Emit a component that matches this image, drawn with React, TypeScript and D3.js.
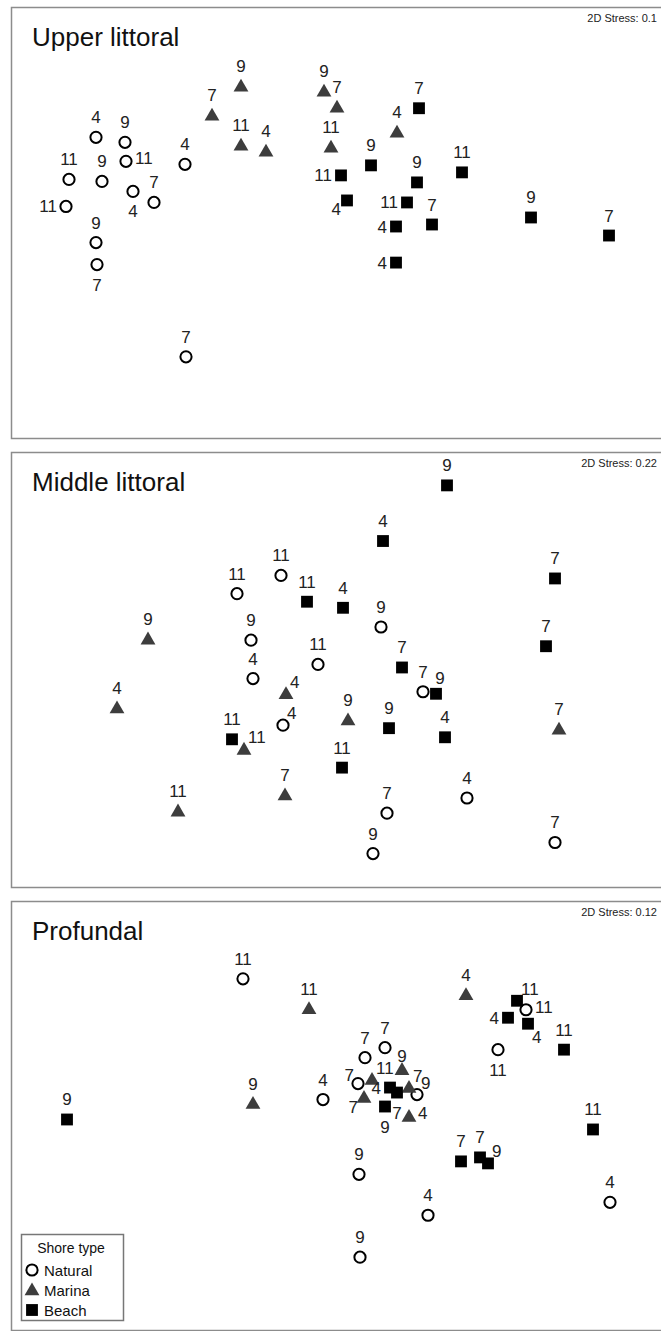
import React, { useEffect, useRef } from "react";
import * as d3 from "d3";

// NMDS ordinations, one per shore zone. Label = sampling month, lab = where the label sits.
type Pt = { t: string; x: number; y: number; lab: string };

const panelTitles = ["Upper littoral", "Middle littoral", "Profundal"];
const stressValues = ["0.1", "0.22", "0.12"];
const shoreTypes = ["Natural", "Marina", "Beach"];

const upperNatural: Pt[] = [
  { t: "4", x: -2.4, y: 0.85, lab: "n" },
  { t: "9", x: -2.11, y: 0.8, lab: "n" },
  { t: "11", x: -2.1, y: 0.61, lab: "e" },
  { t: "4", x: -1.51, y: 0.58, lab: "n" },
  { t: "11", x: -2.67, y: 0.43, lab: "n" },
  { t: "9", x: -2.34, y: 0.41, lab: "n" },
  { t: "4", x: -2.03, y: 0.31, lab: "s" },
  { t: "7", x: -1.82, y: 0.2, lab: "n" },
  { t: "11", x: -2.7, y: 0.16, lab: "w" },
  { t: "9", x: -2.4, y: -0.2, lab: "n" },
  { t: "7", x: -2.39, y: -0.42, lab: "s" },
  { t: "7", x: -1.5, y: -1.34, lab: "n" },
];
const upperMarina: Pt[] = [
  { t: "9", x: -0.95, y: 1.36, lab: "n" },
  { t: "7", x: -1.24, y: 1.07, lab: "n" },
  { t: "11", x: -0.95, y: 0.77, lab: "n" },
  { t: "4", x: -0.7, y: 0.71, lab: "n" },
  { t: "9", x: -0.12, y: 1.31, lab: "n" },
  { t: "7", x: 0.01, y: 1.15, lab: "n" },
  { t: "11", x: -0.05, y: 0.75, lab: "n" },
  { t: "4", x: 0.61, y: 0.9, lab: "n" },
];
const upperBeach: Pt[] = [
  { t: "7", x: 0.83, y: 1.14, lab: "n" },
  { t: "9", x: 0.35, y: 0.57, lab: "n" },
  { t: "11", x: 0.05, y: 0.47, lab: "w" },
  { t: "9", x: 0.81, y: 0.4, lab: "n" },
  { t: "11", x: 1.26, y: 0.5, lab: "n" },
  { t: "4", x: 0.11, y: 0.22, lab: "sw" },
  { t: "11", x: 0.71, y: 0.2, lab: "w" },
  { t: "7", x: 0.96, y: -0.02, lab: "n" },
  { t: "9", x: 1.95, y: 0.05, lab: "n" },
  { t: "7", x: 2.73, y: -0.13, lab: "n" },
  { t: "4", x: 0.6, y: -0.04, lab: "w" },
  { t: "4", x: 0.6, y: -0.4, lab: "w" },
];

const middleNatural: Pt[] = [
  { t: "11", x: -0.55, y: 0.93, lab: "n" },
  { t: "11", x: -0.99, y: 0.75, lab: "n" },
  { t: "9", x: -0.85, y: 0.29, lab: "n" },
  { t: "9", x: 0.45, y: 0.42, lab: "n" },
  { t: "11", x: -0.18, y: 0.05, lab: "n" },
  { t: "4", x: -0.83, y: -0.09, lab: "n" },
  { t: "7", x: 0.87, y: -0.22, lab: "n" },
  { t: "4", x: -0.53, y: -0.55, lab: "ne" },
  { t: "4", x: 1.31, y: -1.27, lab: "n" },
  { t: "7", x: 0.51, y: -1.42, lab: "n" },
  { t: "9", x: 0.37, y: -1.82, lab: "n" },
  { t: "7", x: 2.19, y: -1.71, lab: "n" },
];
const middleMarina: Pt[] = [
  { t: "9", x: -1.88, y: 0.3, lab: "n" },
  { t: "4", x: -2.19, y: -0.38, lab: "n" },
  { t: "4", x: -0.5, y: -0.24, lab: "ne" },
  { t: "9", x: 0.12, y: -0.5, lab: "n" },
  { t: "7", x: 2.23, y: -0.59, lab: "n" },
  { t: "11", x: -0.92, y: -0.79, lab: "ne" },
  { t: "7", x: -0.51, y: -1.24, lab: "n" },
  { t: "11", x: -1.58, y: -1.4, lab: "n" },
];
const middleBeach: Pt[] = [
  { t: "9", x: 1.11, y: 1.82, lab: "n" },
  { t: "4", x: 0.47, y: 1.27, lab: "n" },
  { t: "7", x: 2.19, y: 0.9, lab: "n" },
  { t: "11", x: -0.29, y: 0.67, lab: "n" },
  { t: "4", x: 0.07, y: 0.61, lab: "n" },
  { t: "7", x: 2.1, y: 0.23, lab: "n" },
  { t: "7", x: 0.66, y: 0.02, lab: "n" },
  { t: "9", x: 1.0, y: -0.24, lab: "nne" },
  { t: "9", x: 0.53, y: -0.58, lab: "n" },
  { t: "4", x: 1.09, y: -0.67, lab: "n" },
  { t: "11", x: -1.04, y: -0.69, lab: "n" },
  { t: "11", x: 0.06, y: -0.97, lab: "n" },
];

const profNatural: Pt[] = [
  { t: "11", x: -0.93, y: 1.37, lab: "n" },
  { t: "11", x: 1.9, y: 1.06, lab: "e" },
  { t: "11", x: 1.62, y: 0.66, lab: "s" },
  { t: "7", x: 0.49, y: 0.68, lab: "n" },
  { t: "7", x: 0.29, y: 0.58, lab: "n" },
  { t: "7", x: 0.22, y: 0.32, lab: "nw" },
  { t: "4", x: -0.13, y: 0.16, lab: "n" },
  { t: "9", x: 0.81, y: 0.21, lab: "ne" },
  { t: "9", x: 0.23, y: -0.59, lab: "n" },
  { t: "4", x: 0.92, y: -1.0, lab: "n" },
  { t: "4", x: 2.74, y: -0.87, lab: "n" },
  { t: "9", x: 0.24, y: -1.42, lab: "n" },
];
const profMarina: Pt[] = [
  { t: "11", x: -0.27, y: 1.07, lab: "n" },
  { t: "4", x: 1.3, y: 1.21, lab: "n" },
  { t: "9", x: -0.83, y: 0.12, lab: "n" },
  { t: "11", x: 0.36, y: 0.36, lab: "ne" },
  { t: "9", x: 0.66, y: 0.46, lab: "nc" },
  { t: "7", x: 0.28, y: 0.18, lab: "sw" },
  { t: "7", x: 0.73, y: 0.28, lab: "ne" },
  { t: "4", x: 0.73, y: -0.01, lab: "e" },
];
const profBeach: Pt[] = [
  { t: "11", x: 1.81, y: 1.15, lab: "ne" },
  { t: "4", x: 1.72, y: 0.98, lab: "w" },
  { t: "4", x: 1.92, y: 0.92, lab: "se" },
  { t: "11", x: 2.28, y: 0.66, lab: "n" },
  { t: "11", x: 2.57, y: -0.14, lab: "n" },
  { t: "9", x: -2.69, y: -0.04, lab: "n" },
  { t: "4", x: 0.54, y: 0.28, lab: "w" },
  { t: "7", x: 0.61, y: 0.23, lab: "s" },
  { t: "9", x: 0.49, y: 0.09, lab: "s" },
  { t: "7", x: 1.25, y: -0.46, lab: "n" },
  { t: "7", x: 1.44, y: -0.42, lab: "n" },
  { t: "9", x: 1.52, y: -0.48, lab: "ne" },
];

const panelData: Pt[][][] = [
  [upperNatural, upperMarina, upperBeach],
  [middleNatural, middleMarina, middleBeach],
  [profNatural, profMarina, profBeach],
];

const W = 661;
const H = 1331;
const panelTops = [7, 452, 901];
const panelBottoms = [438, 887, 1330];
const FONT = "'Liberation Sans', Arial, sans-serif";

// label placement: dx, dy (baseline), anchor
const labelPos: Record<string, [number, number, string]> = {
  n: [0, -14, "middle"],
  nc: [0, -8, "middle"],
  nne: [4, -10, "middle"],
  s: [0, 26, "middle"],
  e: [9, 3, "start"],
  w: [-9, 6, "end"],
  ne: [4, -6, "start"],
  nw: [-4, -3, "end"],
  sw: [-6, 15, "end"],
  se: [4, 19, "start"],
};

const drawMarker = (g: any, type: number, cx: number, cy: number) => {
  if (type === 0) {
    g.append("circle")
      .attr("cx", cx)
      .attr("cy", cy)
      .attr("r", 5.6)
      .attr("fill", "#fff")
      .attr("stroke", "#000")
      .attr("stroke-width", 2);
  } else if (type === 1) {
    g.append("path")
      .attr("d", d3.symbol(d3.symbolTriangle, 95)())
      .attr("transform", `translate(${cx},${cy + 1})`)
      .attr("fill", "#3d3d3d");
  } else {
    g.append("path")
      .attr("d", d3.symbol(d3.symbolSquare, 140)())
      .attr("transform", `translate(${cx},${cy})`)
      .attr("fill", "#000");
  }
};

export default function App() {
  const ref = useRef<SVGSVGElement>(null);

  useEffect(() => {
    const svg = d3.select(ref.current);
    svg.selectAll("*").remove();

    const x = d3.scaleLinear().domain([-3.25, 3.25]).range([11, 661]);

    panelData.forEach((groups, i) => {
      const top = panelTops[i];
      const bottom = panelBottoms[i];
      const mid = (top + bottom) / 2;
      const half = (bottom - top) / 2;
      const y = d3
        .scaleLinear()
        .domain([-2.15, 2.15])
        .range([mid + half, mid - half]);

      const g = svg.append("g");
      g.append("rect")
        .attr("x", 11.5)
        .attr("y", top + 0.5)
        .attr("width", 700)
        .attr("height", bottom - top)
        .attr("fill", "#fff")
        .attr("stroke", "#8c8c8c")
        .attr("stroke-width", 1.5);

      g.append("text")
        .attr("x", 32)
        .attr("y", top + 39)
        .attr("font-family", FONT)
        .attr("font-size", 26)
        .attr("fill", "#111")
        .text(panelTitles[i]);

      g.append("text")
        .attr("x", 657)
        .attr("y", top + 15)
        .attr("text-anchor", "end")
        .attr("font-family", FONT)
        .attr("font-size", 11)
        .attr("fill", "#222")
        .text(`2D Stress: ${stressValues[i]}`);

      groups.forEach((pts, type) => {
        pts.forEach((d) => {
          drawMarker(g, type, x(d.x), y(d.y));
        });
      });
      groups.forEach((pts) => {
        pts.forEach((d) => {
          const [dx, dy, anchor] = labelPos[d.lab];
          g.append("text")
            .attr("x", x(d.x) + dx)
            .attr("y", y(d.y) + dy)
            .attr("text-anchor", anchor)
            .attr("font-family", FONT)
            .attr("font-size", 17)
            .attr("fill", "#222")
            .text(d.t);
        });
      });
    });

    // legend
    const lg = svg.append("g");
    lg.append("rect")
      .attr("x", 21.5)
      .attr("y", 1234.5)
      .attr("width", 102)
      .attr("height", 86)
      .attr("fill", "#fff")
      .attr("stroke", "#777")
      .attr("stroke-width", 1.5);
    lg.append("text")
      .attr("x", 71)
      .attr("y", 1253)
      .attr("text-anchor", "middle")
      .attr("font-family", FONT)
      .attr("font-size", 14)
      .attr("fill", "#111")
      .text("Shore type");
    shoreTypes.forEach((s, k) => {
      const cy = 1270 + k * 20;
      drawMarker(lg, k, 32, cy);
      lg.append("text")
        .attr("x", 44)
        .attr("y", cy + 6)
        .attr("font-family", FONT)
        .attr("font-size", 15)
        .attr("fill", "#111")
        .text(s);
    });
  }, []);

  return (
    <svg
      ref={ref}
      width={W}
      height={H}
      style={{ position: "absolute", left: 0, top: 0, background: "#fff" }}
    />
  );
}
